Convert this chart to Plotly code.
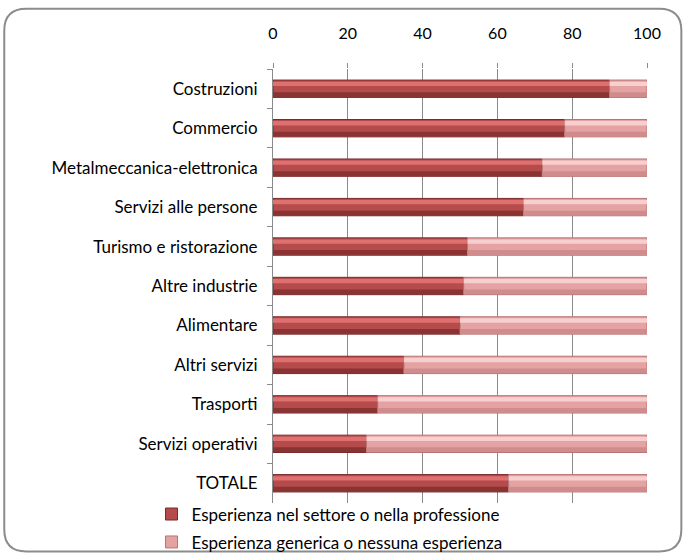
import plotly.graph_objects as go

categories = ["Costruzioni", "Commercio", "Metalmeccanica-elettronica", "Servizi alle persone",
              "Turismo e ristorazione", "Altre industrie", "Alimentare", "Altri servizi",
              "Trasporti", "Servizi operativi", "TOTALE"]
settore = [90, 78, 72, 67, 52, 51, 50, 35, 28, 25, 63]
generica = [10, 22, 28, 33, 48, 49, 50, 65, 72, 75, 37]
x_ticks = [0, 20, 40, 60, 80, 100]

W, H = 686, 558
L, R, T, B = 273.3, 646.7, 68.5, 503.5

def px(x):
    return (x - L) / (R - L)

def py(y):
    return (B - y) / (B - T)

FONT = "Lato, Open Sans, sans-serif"
BW = 0.44  # bar thickness in category units

fig = go.Figure()

def add_series(vals, base, name, legend, main, top, bottom, edge):
    fig.add_trace(go.Bar(
        y=categories, x=vals, base=base, orientation="h", name=name,
        width=BW, marker=dict(color=main, line=dict(color=edge, width=1)),
        legend=legend, showlegend=True,
    ))
    fig.add_trace(go.Bar(
        y=categories, x=vals, base=base, orientation="h", showlegend=False,
        width=0.11, offset=-0.18, marker=dict(color=top, line=dict(width=0)),
        hoverinfo="skip",
    ))
    fig.add_trace(go.Bar(
        y=categories, x=vals, base=base, orientation="h", showlegend=False,
        width=0.12, offset=0.09, marker=dict(color=bottom, line=dict(width=0)),
        hoverinfo="skip",
    ))

add_series(settore, [0] * len(settore), "Esperienza nel settore o nella professione", "legend",
           "#B54B4B", "#DE7070", "#8A3333", "#7A2A2A")
add_series(generica, settore, "Esperienza generica o nessuna esperienza", "legend2",
           "#E4A2A2", "#F8CFCF", "#D08C8C", "#B87474")

# rounded outer border
x0, x1, y0, y1, r = 5, 681, 8, 552, 22
path = (f"M {px(x0+r)} {py(y0)} L {px(x1-r)} {py(y0)} "
        f"Q {px(x1)} {py(y0)} {px(x1)} {py(y0+r)} "
        f"L {px(x1)} {py(y1-r)} Q {px(x1)} {py(y1)} {px(x1-r)} {py(y1)} "
        f"L {px(x0+r)} {py(y1)} Q {px(x0)} {py(y1)} {px(x0)} {py(y1-r)} "
        f"L {px(x0)} {py(y0+r)} Q {px(x0)} {py(y0)} {px(x0+r)} {py(y0)} Z")

leg_common = dict(orientation="v", xanchor="left", yanchor="middle",
                  font=dict(size=17, family=FONT), itemwidth=30,
                  bgcolor="rgba(0,0,0,0)", borderwidth=0)

fig.update_layout(
    width=W, height=H,
    margin=dict(l=L, r=W - R, t=T, b=H - B, pad=0, autoexpand=False),
    barmode="overlay",
    showlegend=True,
    plot_bgcolor="white", paper_bgcolor="white",
    font=dict(family=FONT, size=17, color="#000000"),
    shapes=[dict(type="path", xref="paper", yref="paper", path=path,
                 line=dict(color="#8C8C8C", width=2), layer="below")],
    legend=dict(x=px(152), y=py(515), **leg_common),
    legend2=dict(x=px(152), y=py(543), **leg_common),
    xaxis=dict(side="top", range=[0, 100], tickvals=x_ticks, ticktext=[str(v) for v in x_ticks],
               showgrid=True, gridcolor="#8A8A8A", gridwidth=1, zeroline=False,
               ticks="outside", ticklen=5, tickcolor="#8A8A8A", ticklabelstandoff=18,
               showline=False, tickfont=dict(size=16)),
    yaxis=dict(autorange="reversed", showline=True, linecolor="#8A8A8A", linewidth=1,
               ticks="outside", ticklen=5, tickcolor="#8A8A8A", tickson="boundaries",
               ticklabelstandoff=11, showgrid=False, tickfont=dict(size=17)),
)

fig.write_html("out.html", post_script="document.body.style.margin='0';",
               config={"displayModeBar": False})
